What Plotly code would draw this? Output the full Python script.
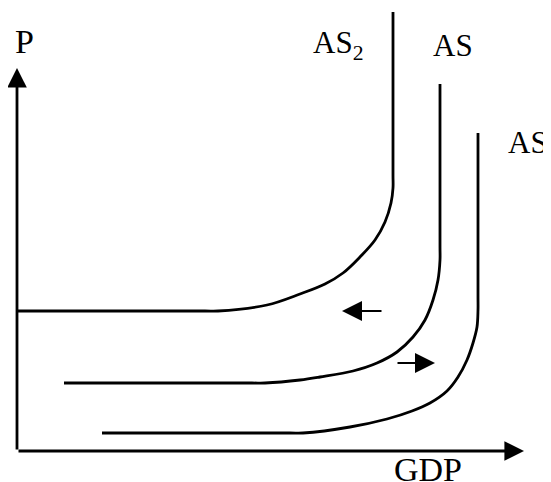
import plotly.graph_objects as go

# curve points (GDP, P) with origin at the axes corner
as2_x = [1, 188, 201, 250, 283, 308, 326, 343, 358, 368, 374, 376, 376, 376]
as2_y = [140, 140, 140, 146, 157, 167, 178, 194, 211, 229, 248, 263, 276, 439]

as_x = [47, 235, 248, 283, 303, 336, 360, 380, 396, 408, 416, 421, 423, 423, 423]
as_y = [68, 68, 68, 71, 74, 80, 88, 99, 114, 131, 151, 171, 191, 204, 367]

as1_x = [85, 273, 286, 333, 370, 395, 413, 430, 441, 450, 456, 460, 461, 461, 461]
as1_y = [18, 18, 18, 24, 32, 40, 48, 60, 74, 91, 108, 124, 141, 156, 318]

labels = ["AS<sub>2</sub>", "AS", "AS<sub>1</sub>"]

fig = go.Figure()
for xs, ys in [(as2_x, as2_y), (as_x, as_y), (as1_x, as1_y)]:
    fig.add_trace(go.Scatter(
        x=xs, y=ys, mode="lines",
        line=dict(color="black", width=2.8, shape="spline", smoothing=1),
        showlegend=False, hoverinfo="skip",
    ))

font = dict(family="Liberation Serif, Times New Roman, serif", color="black")

# axes with arrow heads
for tx, ty in [(0, 383), (507, 0)]:
    fig.add_annotation(x=tx, y=ty, ax=0, ay=0, xref="x", yref="y", axref="x", ayref="y",
                       text="", showarrow=True, arrowhead=2, arrowsize=1.4,
                       arrowwidth=2.8, arrowcolor="black")

# shift arrows
fig.add_annotation(x=325, y=140, ax=366, ay=140, xref="x", yref="y", axref="x", ayref="y",
                   text="", showarrow=True, arrowhead=2, arrowsize=2,
                   arrowwidth=2, arrowcolor="black")
fig.add_annotation(x=418, y=88, ax=379, ay=88, xref="x", yref="y", axref="x", ayref="y",
                   text="", showarrow=True, arrowhead=2, arrowsize=2,
                   arrowwidth=2, arrowcolor="black")

fig.add_annotation(x=7, y=410, text="P", showarrow=False, xanchor="center", yanchor="middle",
                   font=dict(size=34, **font))
fig.add_annotation(x=411, y=-18, text="GDP", showarrow=False, xanchor="center", yanchor="middle",
                   font=dict(size=34, **font))
for lx, ly, txt in [(294, 406, labels[0]), (414, 406, "AS"), (489, 306, labels[2])]:
    fig.add_annotation(x=lx, y=ly, text=txt, showarrow=False, xanchor="left", yanchor="middle",
                       font=dict(size=31, **font))

# the page body has an 8px margin, so the ranges are shifted to compensate
fig.update_xaxes(visible=False, range=[-9, 542])
fig.update_yaxes(visible=False, range=[-39, 443])
fig.update_layout(
    width=551, height=482,
    margin=dict(l=0, r=0, t=0, b=0),
    plot_bgcolor="white", paper_bgcolor="white",
)

fig.write_html("out.html")
